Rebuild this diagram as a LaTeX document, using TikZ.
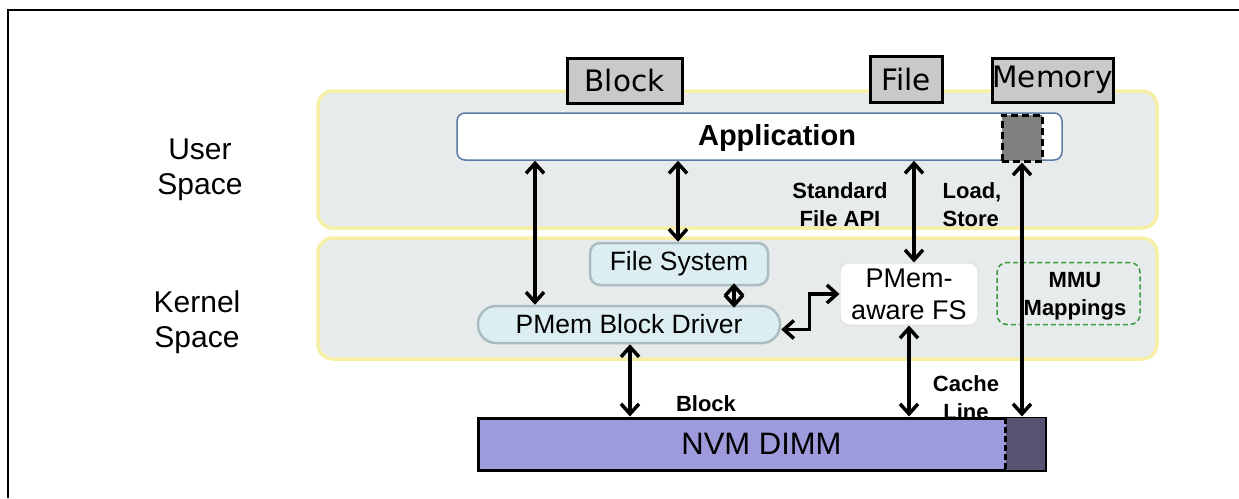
\documentclass[tikz,border=0pt]{standalone}
\usepackage{fontspec}
\setmainfont{Liberation Sans}
\newfontfamily\tagfont{DejaVu Sans}
\usetikzlibrary{arrows.meta,positioning}

\definecolor{panelfill}{HTML}{E8EBEB}
\definecolor{panelline}{HTML}{F6EFA6}
\definecolor{appline}{HTML}{5A7BA5}
\definecolor{drvfill}{HTML}{DCEEF1}
\definecolor{drvline}{HTML}{A9BDC0}
\definecolor{tagfill}{HTML}{C9C9C9}
\definecolor{nvmfill}{HTML}{9E9BDC}
\definecolor{nvmdark}{HTML}{55536F}
\definecolor{mmuline}{HTML}{3C9A3C}

\begin{document}
\begin{tikzpicture}[x=1pt,y=-1pt,
    panel/.style={draw=panelline,line width=3.5pt,fill=panelfill,rounded corners=15pt,minimum width=839pt,inner sep=0pt},
    tagbox/.style={draw=black,line width=3pt,fill=tagfill,inner sep=0pt,font=\tagfont\fontsize{29.5}{30}\selectfont},
    drvbox/.style={draw=drvline,line width=2.5pt,fill=drvfill,inner sep=0pt,font=\fontsize{26.5}{30}\selectfont},
    lbl/.style={font=\bfseries\fontsize{22}{28}\selectfont,align=center,inner sep=0pt},
    side/.style={font=\fontsize{30}{35}\selectfont,align=center,inner sep=0pt},
    dbl/.style={line width=3.5pt,{Straight Barb[length=10pt,width=18pt]}-{Straight Barb[length=10pt,width=18pt]}}]
    \useasboundingbox (0,0) rectangle (1239,498);

    % frame
    \draw[line width=2pt] (8,498) -- (8,10) -- (1239,10);

    % layers
    \node[panel,minimum height=137pt] (user) at (737.5,159.5) {};
    \node[panel,minimum height=121pt] (kernel) at (737.5,298.5) {};
    \node[side] (usr) at (200,170) {User\\Space};
    \node[side] (krn) at (197,322) {Kernel\\Space};

    % access modes
    \node[tagbox,minimum width=115pt,minimum height=45pt] (blk) at (624.5,80.5) {Block};
    \node[tagbox,minimum width=72pt,minimum height=46pt] (file) at (906,79) {File};
    \node[tagbox,minimum width=121pt,minimum height=44pt] (mem) at (1052.5,80) {Memory};

    % application
    \node[draw=appline,line width=1.5pt,fill=white,rounded corners=8pt,minimum width=605pt,minimum height=47pt] (app) at (759.5,136.5) {};
    \node[font=\bfseries\fontsize{29}{30}\selectfont,inner sep=0pt] (apptxt) at (777,138) {Application};
    \node[draw=black,line width=3pt,dash pattern=on 7pt off 4pt,fill=black!50,minimum width=40pt,minimum height=46pt] (memsq) at (1022,138) {};

    % kernel parts
    \node[drvbox,rounded corners=10pt,minimum width=178pt,minimum height=42pt] (fs) at (679,264) {File System};
    \node[drvbox,rounded corners=18pt,minimum width=302pt,minimum height=37pt] (drv) at (629,324.5) {PMem Block Driver};
    \node[draw=black!12,line width=1pt,fill=white,rounded corners=9pt,minimum width=138pt,minimum height=62pt,
          align=center,inner sep=0pt,font=\fontsize{27}{32}\selectfont] (pafs) at (909,294) {PMem-\\aware FS};
    \node[draw=mmuline,line width=1.5pt,dash pattern=on 5pt off 3pt,rounded corners=10pt,minimum width=143pt,minimum height=62pt] (mmu) at (1068.5,293.5) {};
    \node[lbl] (mmutxt) at (1075,296) {MMU\\Mappings};

    % labels
    \node[lbl] (stdapi) at (840,205) {Standard\\File API};
    \node[lbl,align=left] (ldst) at (972,205) {Load,\\Store};
    \node[lbl] (blklbl) at (706,404) {Block};
    \node[lbl] (cache) at (966,398) {Cache\\Line};

    % device
    \node[draw=black,line width=3pt,fill=nvmfill,minimum width=567pt,minimum height=52pt,font=\fontsize{31}{32}\selectfont] (nvm) at (761.5,444) {NVM DIMM};
    \fill[nvmdark] ([xshift=-41pt,yshift=-1.5pt]nvm.north east) rectangle ([xshift=-1.5pt,yshift=1.5pt]nvm.south east);
    \draw[line width=2.5pt,dash pattern=on 6pt off 3pt] ([xshift=-41pt,yshift=-1.5pt]nvm.north east) -- ([xshift=-41pt,yshift=1.5pt]nvm.south east);

    % arrow columns
    \coordinate (cA) at (535,0);
    \coordinate (cB) at (678,0);
    \coordinate (cC) at (914,0);
    \coordinate (cE) at (734,0);
    \coordinate (cF) at (630,0);
    \coordinate (cG) at (909,0);

    \draw[dbl] (app.south -| cA) -- (drv.north -| cA);
    \draw[dbl] (app.south -| cB) -- (fs.north -| cB);
    \draw[dbl] (app.south -| cC) -- (pafs.north -| cC);
    \draw[dbl] (memsq.south) -- (nvm.north -| memsq.south);
    \draw[dbl] ([yshift=3pt]fs.south -| cE) -- ([yshift=-3pt]drv.north -| cE);
    \draw[dbl] (drv.south -| cF) -- (nvm.north -| cF);
    \draw[dbl] (pafs.south -| cG) -- (nvm.north -| cG);
    \draw[dbl] ([yshift=-5pt]drv.east) -| ([xshift=-30pt]pafs.west) -- (pafs.west);
\end{tikzpicture}
\end{document}
